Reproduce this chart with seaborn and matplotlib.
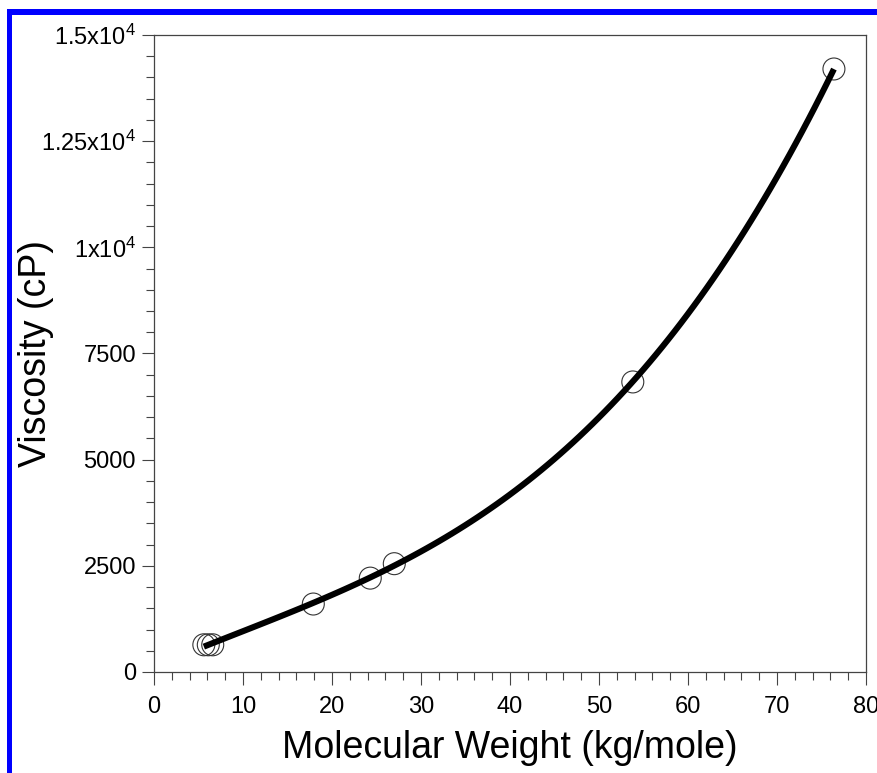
import matplotlib
matplotlib.use("Agg")
import matplotlib.pyplot as plt
from matplotlib.ticker import AutoMinorLocator, FixedLocator, FixedFormatter
from matplotlib.patches import Rectangle
import seaborn as sns
import pandas as pd

# Measured samples
mol_weight = [5.6, 6.1, 6.6, 17.9, 24.3, 27.0, 53.8, 76.4]        # kg/mole
viscosity = [640, 640, 640, 1600, 2210, 2550, 6830, 14200]         # cP

y_ticks = [0, 2500, 5000, 7500, 10000, 12500, 15000]
y_tick_labels = ["0", "2500", "5000", "7500",
                 "1x10$^{4}$", "1.25x10$^{4}$", "1.5x10$^{4}$"]
x_ticks = [0, 10, 20, 30, 40, 50, 60, 70, 80]

df = pd.DataFrame({"mw": mol_weight, "visc": viscosity})

sns.set_theme(style="white")
plt.rcParams["font.family"] = ["Liberation Sans", "DejaVu Sans"]
plt.rcParams["mathtext.default"] = "regular"

fig = plt.figure(figsize=(8.78, 7.73), dpi=100)
ax = fig.add_axes([0.1754, 0.1307, 0.9863 - 0.1754, 0.9547 - 0.1307])

sns.scatterplot(data=df, x="mw", y="visc", ax=ax, marker="o", s=250,
                facecolor="none", edgecolor="#333333", linewidth=0.8,
                zorder=2, legend=False)
# Cubic fit through the samples
sns.regplot(data=df, x="mw", y="visc", ax=ax, order=3, ci=None,
            scatter=False, color="black",
            line_kws={"linewidth": 4.4, "solid_capstyle": "butt", "zorder": 3})

ax.set_xlim(0, 80)
ax.set_ylim(0, 15000)
ax.xaxis.set_major_locator(FixedLocator(x_ticks))
ax.xaxis.set_minor_locator(AutoMinorLocator(5))
ax.yaxis.set_major_locator(FixedLocator(y_ticks))
ax.yaxis.set_major_formatter(FixedFormatter(y_tick_labels))
ax.yaxis.set_minor_locator(AutoMinorLocator(5))

ax.tick_params(axis="both", which="major", direction="out", length=9,
               width=0.8, color="#444444", labelsize=17, labelcolor="black",
               bottom=True, left=True, top=False, right=False)
ax.tick_params(axis="x", which="major", pad=8)
ax.tick_params(axis="y", which="major", pad=4)
ax.tick_params(axis="both", which="minor", direction="out", length=5.5,
               width=0.8, color="#444444", bottom=True, left=True,
               top=False, right=False)

for side in ["left", "right", "top", "bottom"]:
    ax.spines[side].set_visible(True)
    ax.spines[side].set_color("#444444")
    ax.spines[side].set_linewidth(0.9)

ax.set_xlabel("Molecular Weight (kg/mole)", fontsize=27, labelpad=9,
              color="black")
ax.set_ylabel("Viscosity (cP)", fontsize=27, color="black")
ax.yaxis.set_label_coords(-0.141, 0.5)

# Blue frame along the left and top edges of the figure
W, H = 878, 773
fig.add_artist(Rectangle((7 / W, 0), 5 / W, (H - 9) / H,
                         transform=fig.transFigure, color="#0000ff", lw=0))
fig.add_artist(Rectangle((7 / W, (H - 15) / H), (W - 7) / W, 6 / H,
                         transform=fig.transFigure, color="#0000ff", lw=0))

fig.savefig("out.png", dpi=100)
